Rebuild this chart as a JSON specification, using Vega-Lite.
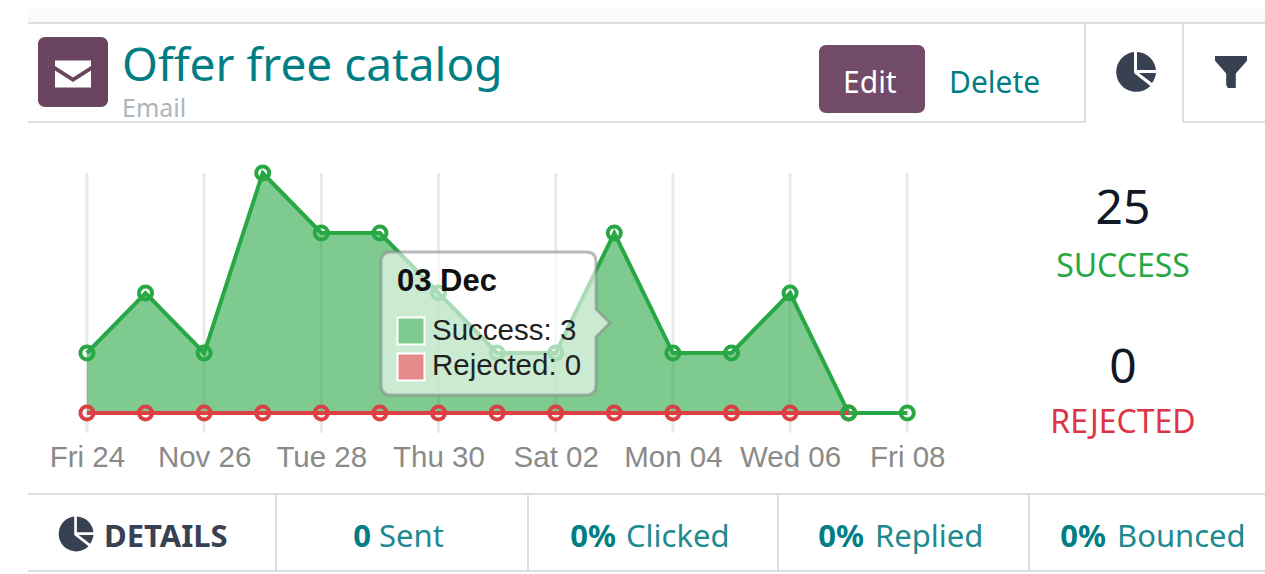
{
"$schema":"https://vega.github.io/schema/vega-lite/v6.json",
"width":1265,"height":574,"padding":0,
"autosize":{"type":"fit","contains":"padding"},
"background":"#ffffff",
"config":{"view":{"stroke":null}},
"datasets":{
"daily":[
{"date":"2023-11-24","series":"Success","count":1},{"date":"2023-11-25","series":"Success","count":2},{"date":"2023-11-26","series":"Success","count":1},{"date":"2023-11-27","series":"Success","count":4},{"date":"2023-11-28","series":"Success","count":3},{"date":"2023-11-29","series":"Success","count":3},{"date":"2023-11-30","series":"Success","count":2},{"date":"2023-12-01","series":"Success","count":1},{"date":"2023-12-02","series":"Success","count":1},{"date":"2023-12-03","series":"Success","count":3},{"date":"2023-12-04","series":"Success","count":1},{"date":"2023-12-05","series":"Success","count":1},{"date":"2023-12-06","series":"Success","count":2},{"date":"2023-12-07","series":"Success","count":0},{"date":"2023-12-08","series":"Success","count":0},
{"date":"2023-11-24","series":"Rejected","count":0},{"date":"2023-11-25","series":"Rejected","count":0},{"date":"2023-11-26","series":"Rejected","count":0},{"date":"2023-11-27","series":"Rejected","count":0},{"date":"2023-11-28","series":"Rejected","count":0},{"date":"2023-11-29","series":"Rejected","count":0},{"date":"2023-11-30","series":"Rejected","count":0},{"date":"2023-12-01","series":"Rejected","count":0},{"date":"2023-12-02","series":"Rejected","count":0},{"date":"2023-12-03","series":"Rejected","count":0},{"date":"2023-12-04","series":"Rejected","count":0},{"date":"2023-12-05","series":"Rejected","count":0},{"date":"2023-12-06","series":"Rejected","count":0},{"date":"2023-12-07","series":"Rejected","count":0}
]},
"resolve":{"scale":{"x":"independent","y":"independent","color":"independent","size":"independent"},"axis":{"x":"independent","y":"independent"}},
"layer":[
{"data":{"values":[{"panel":"band"}]},"mark":{"type":"rect","color":"#f9fafb"},
 "encoding":{"x":{"datum":0,"type":"quantitative","scale":{"domain":[0,1],"range":[28,1265]},"axis":null},"x2":{"datum":1},"y":{"datum":0,"type":"quantitative","scale":{"domain":[0,1],"range":[7,22]},"axis":null},"y2":{"datum":1}}},
{"data":{"values":[
{"from_x":0,"to_x":7,"from_y":0,"to_y":0},{"from_x":0,"to_x":5,"from_y":1,"to_y":1},{"from_x":6,"to_x":7,"from_y":1,"to_y":1},{"from_x":5,"to_x":5,"from_y":0,"to_y":1},{"from_x":6,"to_x":6,"from_y":0,"to_y":1},{"from_x":0,"to_x":7,"from_y":2,"to_y":2},{"from_x":0,"to_x":7,"from_y":3,"to_y":3},{"from_x":1,"to_x":1,"from_y":2,"to_y":3},{"from_x":2,"to_x":2,"from_y":2,"to_y":3},{"from_x":3,"to_x":3,"from_y":2,"to_y":3},{"from_x":4,"to_x":4,"from_y":2,"to_y":3}]},
 "mark":{"type":"rule","color":"#dcdee1","strokeWidth":2},
 "encoding":{"x":{"field":"from_x","type":"quantitative","scale":{"domain":[0,1,2,3,4,5,6,7],"range":[28,276,528,778,1029,1085,1183,1265]},"axis":null},"x2":{"field":"to_x"},"y":{"field":"from_y","type":"quantitative","scale":{"domain":[0,1,2,3],"range":[23,122,494,571]},"axis":null},"y2":{"field":"to_y"}}},
{"data":{"values":[{"date":"2023-11-24"},{"date":"2023-11-26"},{"date":"2023-11-28"},{"date":"2023-11-30"},{"date":"2023-12-02"},{"date":"2023-12-04"},{"date":"2023-12-06"},{"date":"2023-12-08"}]},
 "mark":{"type":"rule","color":"#e9eaec","strokeWidth":3},
 "encoding":{"x":{"field":"date","type":"temporal","scale":{"type":"utc","domain":[1700655816960,1702519603200]},
   "axis":{"values":[1700784000000,1700956800000,1701129600000,1701302400000,1701475200000,1701648000000,1701820800000,1701993600000],"format":"%d %b","formatType":"utc","title":null,"ticks":false,"domain":false,"grid":false,"labelFont":"Liberation Sans","labelFontSize":29.5,"labelColor":"#8a8a8a","labelBaseline":"alphabetic","labelPadding":0,"labelOverlap":false,"labelFlush":false,"labelBound":false,"offset":-108}},
  "y":{"datum":4,"type":"quantitative","scale":{"domain":[-2.683,6.883],"nice":false,"zero":false},"axis":null},"y2":{"datum":-0.33}}},
{"data":{"name":"daily"},"transform":[{"filter":"datum.series==='Success'"}],"mark":{"type":"area","color":"#28a745","opacity":0.6},
 "encoding":{"x":{"field":"date","type":"temporal","scale":{"type":"utc","domain":[1700655816960,1702519603200]},"axis":null},"y":{"field":"count","type":"quantitative","stack":null,"scale":{"domain":[-2.683,6.883],"nice":false,"zero":false},"axis":null},"y2":{"datum":0}}},
{"data":{"name":"daily"},"mark":{"type":"line","strokeWidth":4},
 "encoding":{"x":{"field":"date","type":"temporal","scale":{"type":"utc","domain":[1700655816960,1702519603200]},"axis":null},"y":{"field":"count","type":"quantitative","scale":{"domain":[-2.683,6.883],"nice":false,"zero":false},"axis":null},
  "color":{"field":"series","type":"nominal","scale":{"domain":["Success","Rejected"],"range":["#28a745","#dc4045"]},"legend":null},
  "order":{"field":"series","sort":"descending"}}},
{"data":{"name":"daily"},"transform":[{"filter":"datum.series==='Rejected'"}],"mark":{"type":"point","filled":false,"opacity":1,"strokeWidth":4,"size":170,"color":"#dc4045"},
 "encoding":{"x":{"field":"date","type":"temporal","scale":{"type":"utc","domain":[1700655816960,1702519603200]},"axis":null},"y":{"field":"count","type":"quantitative","scale":{"domain":[-2.683,6.883],"nice":false,"zero":false},"axis":null}}},
{"data":{"name":"daily"},"transform":[{"filter":"datum.series==='Success'"}],"mark":{"type":"point","filled":false,"opacity":1,"strokeWidth":4,"size":170,"color":"#28a745"},
 "encoding":{"x":{"field":"date","type":"temporal","scale":{"type":"utc","domain":[1700655816960,1702519603200]},"axis":null},"y":{"field":"count","type":"quantitative","scale":{"domain":[-2.683,6.883],"nice":false,"zero":false},"axis":null}}},
{"data":{"values":[{"name":"tooltip"}]},"mark":{"type":"point","filled":true,"opacity":1,"fill":"#ffffff","fillOpacity":0.6,"stroke":"#8a8a8a","strokeOpacity":0.6,"strokeWidth":3,"size":52900,"shape":"M-0.913,-0.617 L0.783,-0.617 Q0.87,-0.617 0.87,-0.53 L0.87,-0.12 L0.99,0 L0.87,0.12 L0.87,0.539 Q0.87,0.626 0.783,0.626 L-0.913,0.626 Q-1,0.626 -1,0.539 L-1,-0.53 Q-1,-0.617 -0.913,-0.617 Z"},
 "encoding":{"x":{"datum":0,"type":"quantitative","scale":{"domain":[0,1],"range":[496,497]},"axis":null},"y":{"datum":0,"type":"quantitative","scale":{"domain":[0,1],"range":[323,324]},"axis":null}}},
{"data":{"values":[{"series":"Success"},{"series":"Rejected"}]},"mark":{"type":"point","shape":"square","filled":true,"opacity":1,"size":729,"stroke":"#ffffff","strokeWidth":2},
 "encoding":{"x":{"datum":0,"type":"quantitative","scale":{"domain":[0,1],"range":[411,412]},"axis":null},"y":{"field":"series","type":"nominal","scale":{"type":"point","padding":0,"domain":["Success","Rejected"],"range":[331,367]},"axis":null},
  "fill":{"field":"series","type":"nominal","scale":{"domain":["Success","Rejected"],"range":["#7fca8f","#e58b8c"]},"legend":null}}},
{"data":{"values":[{"slot":0,"text":"Success: 3"},{"slot":1,"text":"Rejected: 0"}]},"mark":{"type":"text","font":"Liberation Sans","fontSize":29.5,"align":"left","baseline":"alphabetic","color":"#222222"},
 "encoding":{"x":{"datum":0,"type":"quantitative","scale":{"domain":[0,1],"range":[432,433]},"axis":null},"y":{"field":"slot","type":"quantitative","scale":{"domain":[0,1],"range":[340,375]},"axis":null},"text":{"field":"text"}}},
{"data":{"values":[{"text":"03 Dec"}]},"mark":{"type":"text","font":"Liberation Sans","fontWeight":"bold","fontSize":31,"align":"left","baseline":"alphabetic","color":"#111111"},
 "encoding":{"x":{"datum":0,"type":"quantitative","scale":{"domain":[0,1],"range":[397,398]},"axis":null},"y":{"datum":0,"type":"quantitative","scale":{"domain":[0,1],"range":[291,292]},"axis":null},"text":{"field":"text"}}},
{"data":{"values":[{"name":"icon","l":0,"r":1,"t":0,"b":1},{"name":"edit","l":2,"r":3,"t":2,"b":3}]},"mark":{"type":"rect","cornerRadius":7},
 "encoding":{"x":{"field":"l","type":"quantitative","scale":{"domain":[0,1,2,3],"range":[38,108,819,925]},"axis":null},"x2":{"field":"r"},"y":{"field":"t","type":"quantitative","scale":{"domain":[0,1,2,3],"range":[37,107,45,113]},"axis":null},"y2":{"field":"b"},
 "color":{"field":"name","type":"nominal","scale":{"domain":["icon","edit"],"range":["#6b4560","#714b67"]},"legend":null}}},
{"data":{"values":[{"icon":"envelope"}]},"mark":{"type":"point","filled":true,"opacity":1,"color":"#ffffff","size":1296,"shape":"M-1,-0.75 L1,-0.75 L1,-0.45 L0,0.2 L-1,-0.45 Z M-1,-0.2 L0,0.45 L1,-0.2 L1,0.75 L-1,0.75 Z"},
 "encoding":{"x":{"datum":0,"type":"quantitative","scale":{"domain":[0,1],"range":[73,74]},"axis":null},"y":{"datum":0,"type":"quantitative","scale":{"domain":[0,1],"range":[74,75]},"axis":null}}},
{"data":{"values":[{"icon":"pie"}]},"mark":{"type":"point","filled":true,"opacity":1,"color":"#374151","size":1600,"shape":"M-0.1,-1 A1,1 0 1 0 0.72,0.7 L-0.1,0.05 Z M0.05,-1 A1,1 0 0 1 1,-0.1 L0.05,-0.1 Z M0.15,0.05 L1,0.05 A1,1 0 0 1 0.8,0.55 Z"},
 "encoding":{"x":{"datum":0,"type":"quantitative","scale":{"domain":[0,1],"range":[1136,1137]},"axis":null},"y":{"datum":0,"type":"quantitative","scale":{"domain":[0,1],"range":[72,73]},"axis":null}}},
{"data":{"values":[{"icon":"pie"}]},"mark":{"type":"point","filled":true,"opacity":1,"color":"#374151","size":1225,"shape":"M-0.1,-1 A1,1 0 1 0 0.72,0.7 L-0.1,0.05 Z M0.05,-1 A1,1 0 0 1 1,-0.1 L0.05,-0.1 Z M0.15,0.05 L1,0.05 A1,1 0 0 1 0.8,0.55 Z"},
 "encoding":{"x":{"datum":0,"type":"quantitative","scale":{"domain":[0,1],"range":[76,77]},"axis":null},"y":{"datum":0,"type":"quantitative","scale":{"domain":[0,1],"range":[534,535]},"axis":null}}},
{"data":{"values":[{"icon":"funnel"}]},"mark":{"type":"point","filled":true,"opacity":1,"color":"#374151","size":1024,"shape":"M-1,-1 L1,-1 L1,-0.7 L0.3,0.1 L0.3,1 L-0.2,1 L-0.3,0.8 L-0.3,0.1 L-1,-0.7 Z"},
 "encoding":{"x":{"datum":0,"type":"quantitative","scale":{"domain":[0,1],"range":[1231,1232]},"axis":null},"y":{"datum":0,"type":"quantitative","scale":{"domain":[0,1],"range":[72,73]},"axis":null}}},
{"data":{"values":[{"slot":0,"text":"Offer free catalog","role":"title"},{"slot":1,"text":"Email","role":"subtitle"},{"slot":2,"text":"Edit","role":"button"},{"slot":3,"text":"Delete","role":"link"},{"slot":4,"text":"Sent","role":"tab"},{"slot":5,"text":"Clicked","role":"tab"},{"slot":6,"text":"Replied","role":"tab"},{"slot":7,"text":"Bounced","role":"tab"}]},
 "mark":{"type":"text","font":"Noto Sans","align":"left","baseline":"alphabetic"},
 "encoding":{"x":{"field":"slot","type":"quantitative","scale":{"domain":[0,1,2,3,4,5,6,7],"range":[122,122,843,949,379,626,875,1117]},"axis":null},"y":{"field":"slot","type":"quantitative","scale":{"domain":[0,1,2,3,4,5,6,7],"range":[81,117,93,93,547,547,547,547]},"axis":null},"text":{"field":"text"},
 "size":{"field":"role","type":"nominal","scale":{"type":"ordinal","domain":["title","subtitle","button","link","tab"],"range":[46,25,30,30,31]},"legend":null},
 "color":{"field":"role","type":"nominal","scale":{"domain":["title","subtitle","button","link","tab"],"range":["#017e84","#adb5bd","#ffffff","#017e84","#1f8a90"]},"legend":null}}},
{"data":{"values":[{"slot":0,"text":"0"},{"slot":1,"text":"0%"},{"slot":2,"text":"0%"},{"slot":3,"text":"0%"}]},"mark":{"type":"text","font":"Noto Sans","fontWeight":"bold","fontSize":31,"align":"right","baseline":"alphabetic","color":"#017e84"},
 "encoding":{"x":{"field":"slot","type":"quantitative","scale":{"domain":[0,1,2,3],"range":[371,616,864,1106]},"axis":null},"y":{"datum":0,"type":"quantitative","scale":{"domain":[0,1],"range":[547,548]},"axis":null},"text":{"field":"text"}}},
{"data":{"values":[{"text":"DETAILS"}]},"mark":{"type":"text","font":"Noto Sans","fontWeight":"bold","fontSize":31,"align":"left","baseline":"alphabetic","color":"#374151"},
 "encoding":{"x":{"datum":0,"type":"quantitative","scale":{"domain":[0,1],"range":[104,105]},"axis":null},"y":{"datum":0,"type":"quantitative","scale":{"domain":[0,1],"range":[547,548]},"axis":null},"text":{"field":"text"}}},
{"data":{"values":[{"slot":0,"text":"25","role":"total"},{"slot":1,"text":"SUCCESS","role":"success"},{"slot":2,"text":"0","role":"total"},{"slot":3,"text":"REJECTED","role":"rejected"}]},"mark":{"type":"text","font":"Noto Sans","align":"center","baseline":"alphabetic"},
 "encoding":{"x":{"datum":0,"type":"quantitative","scale":{"domain":[0,1],"range":[1123,1124]},"axis":null},"y":{"field":"slot","type":"quantitative","scale":{"domain":[0,1,2,3],"range":[224,277,383,433]},"axis":null},"text":{"field":"text"},
 "size":{"field":"role","type":"nominal","scale":{"type":"ordinal","domain":["total","success","rejected"],"range":[48,32,32]},"legend":null},
 "color":{"field":"role","type":"nominal","scale":{"domain":["total","success","rejected"],"range":["#111827","#28a745","#dc3545"]},"legend":null}}}
]}
